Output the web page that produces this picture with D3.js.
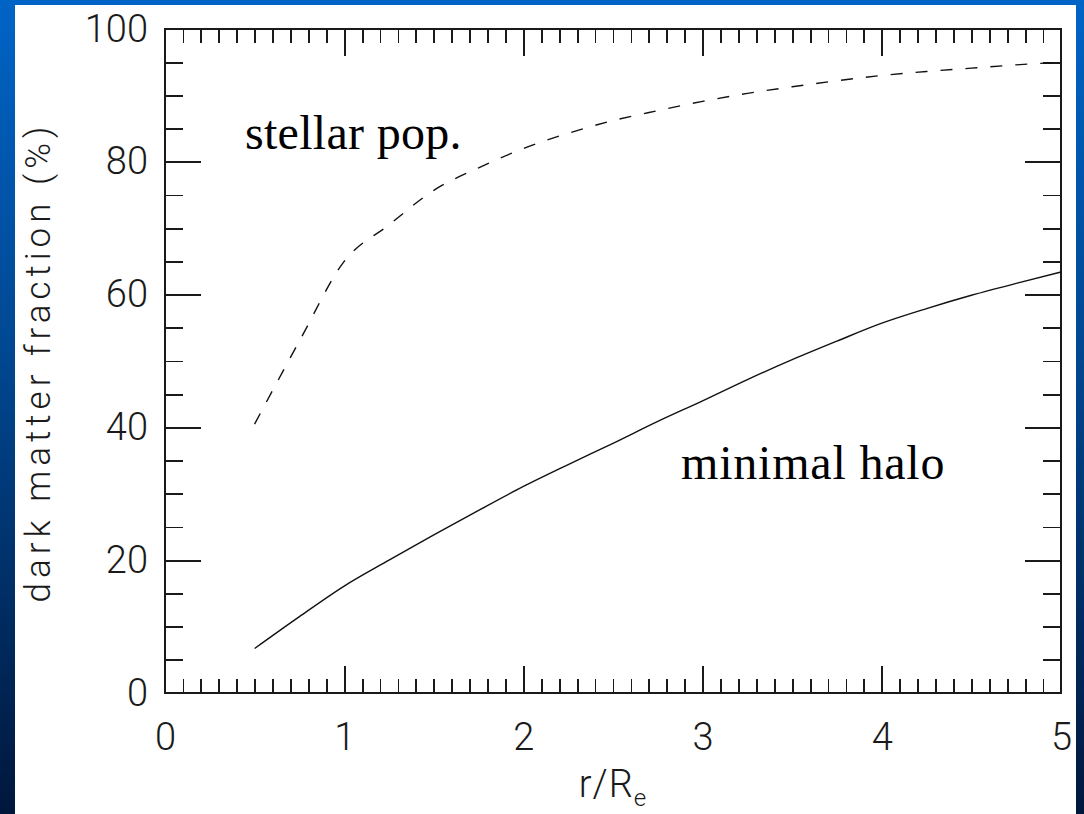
<!DOCTYPE html>
<html>
<head>
<meta charset="utf-8">
<script src="https://cdn.jsdelivr.net/npm/d3@7"></script>
<style>
  html, body { margin: 0; padding: 0; background: #fff; }
  svg { display: block; }
</style>
</head>
<body>
<svg id="chart" width="1084" height="814"></svg>
<script>
// Radius in units of the effective radius
const radius = [0.5, 0.75, 1.0, 1.25, 1.5, 1.75, 2.0, 2.25, 2.5, 2.75, 3.0,
                3.25, 3.5, 3.75, 4.0, 4.25, 4.5, 4.75, 5.0];
// Dark matter fraction (%) for the stellar-population mass model
const stellarPop = [40.5, 53.0, 65.0, 70.5, 75.7, 79.1, 82.0, 84.3, 86.2, 87.7, 89.1,
                    90.3, 91.3, 92.2, 93.0, 93.6, 94.1, 94.6, 95.0];
// Dark matter fraction (%) for the minimal-halo model
const minimalHalo = [6.7, 11.5, 16.1, 20.0, 23.8, 27.5, 31.1, 34.4, 37.6, 40.9, 44.0,
                     47.2, 50.2, 53.0, 55.7, 57.9, 59.9, 61.7, 63.4];

const xTicks = [0, 1, 2, 3, 4, 5];
const yTicks = [0, 20, 40, 60, 80, 100];
const xMinorTicks = d3.range(1, 50).filter(i => i % 10 !== 0).map(i => i / 10);
const yMinorTicks = d3.range(5, 100, 5).filter(v => v % 20 !== 0);

const svg = d3.select("#chart");

// Slide background: vertical blue gradient with a white panel on top
const defs = svg.append("defs");
const grad = defs.append("linearGradient")
  .attr("id", "bg").attr("x1", 0).attr("y1", 0).attr("x2", 0).attr("y2", 1);
grad.append("stop").attr("offset", "0%").attr("stop-color", "#0064c6");
grad.append("stop").attr("offset", "45%").attr("stop-color", "#00468f");
grad.append("stop").attr("offset", "100%").attr("stop-color", "#00173c");

svg.append("rect").attr("width", 1084).attr("height", 814).attr("fill", "url(#bg)");
svg.append("rect").attr("x", 15).attr("y", 5).attr("width", 1061).attr("height", 820)
  .attr("fill", "#ffffff");

const x = d3.scaleLinear().domain([0, 5]).range([165, 1061]);
const y = d3.scaleLinear().domain([0, 100]).range([693, 29]);

const axisColor = "#1a1a1a";
const tickFont = "Roboto, 'DejaVu Sans', sans-serif";

function styleAxis(g) {
  g.select(".domain").remove();
  g.selectAll(".tick line")
    .attr("stroke", axisColor)
    .attr("stroke-width", 1.8)
    .attr("shape-rendering", "crispEdges");
  g.selectAll("text")
    .attr("fill", axisColor)
    .attr("font-family", tickFont)
    .attr("font-weight", 300)
    .attr("font-size", 38);
}

// Minor ticks on all four sides (pointing inward)
svg.append("g").attr("transform", `translate(0,${y(0)})`)
  .call(d3.axisBottom(x).tickValues(xMinorTicks).tickSize(-14).tickFormat(""))
  .call(styleAxis);
svg.append("g").attr("transform", `translate(0,${y(100)})`)
  .call(d3.axisTop(x).tickValues(xMinorTicks).tickSize(-14).tickFormat(""))
  .call(styleAxis);
svg.append("g").attr("transform", `translate(${x(0)},0)`)
  .call(d3.axisLeft(y).tickValues(yMinorTicks).tickSize(-18).tickFormat(""))
  .call(styleAxis);
svg.append("g").attr("transform", `translate(${x(5)},0)`)
  .call(d3.axisRight(y).tickValues(yMinorTicks).tickSize(-18).tickFormat(""))
  .call(styleAxis);

// Major ticks, labelled on the bottom and left
svg.append("g").attr("transform", `translate(0,${y(0)})`)
  .call(d3.axisBottom(x).tickValues(xTicks).tickSize(-27).tickPadding(30).tickFormat(d3.format("d")))
  .call(styleAxis);
svg.append("g").attr("transform", `translate(0,${y(100)})`)
  .call(d3.axisTop(x).tickValues(xTicks).tickSize(-27).tickFormat(""))
  .call(styleAxis);
svg.append("g").attr("transform", `translate(${x(0)},0)`)
  .call(d3.axisLeft(y).tickValues(yTicks).tickSize(-36).tickPadding(17).tickFormat(d3.format("d")))
  .call(styleAxis);
svg.append("g").attr("transform", `translate(${x(5)},0)`)
  .call(d3.axisRight(y).tickValues(yTicks).tickSize(-36).tickFormat(""))
  .call(styleAxis);

// Plot frame
svg.append("rect")
  .attr("x", x(0)).attr("y", y(100))
  .attr("width", x(5) - x(0)).attr("height", y(0) - y(100))
  .attr("fill", "none").attr("stroke", axisColor).attr("stroke-width", 2)
  .attr("shape-rendering", "crispEdges");

// Curves
const line = d3.line()
  .x((d, i) => x(radius[i]))
  .y(d => y(d))
  .curve(d3.curveMonotoneX);

svg.append("path").datum(stellarPop)
  .attr("d", line)
  .attr("fill", "none").attr("stroke", "#111").attr("stroke-width", 1.4)
  .attr("stroke-dasharray", "12,13");

svg.append("path").datum(minimalHalo)
  .attr("d", line)
  .attr("fill", "none").attr("stroke", "#111").attr("stroke-width", 1.4);

// Axis titles
const xTitle = svg.append("text")
  .attr("x", (x(0) + x(5)) / 2).attr("y", 797)
  .attr("text-anchor", "middle")
  .attr("font-family", tickFont).attr("font-weight", 300).attr("font-size", 38)
  .attr("letter-spacing", 1)
  .attr("fill", axisColor);
xTitle.append("tspan").text("r/R");
xTitle.append("tspan").attr("font-size", 24).attr("dy", 9).text("e");

svg.append("text")
  .attr("transform", "translate(50,362) rotate(-90)")
  .attr("text-anchor", "middle")
  .attr("font-family", tickFont).attr("font-weight", 300).attr("font-size", 35)
  .attr("letter-spacing", 5)
  .attr("fill", axisColor)
  .text("dark matter fraction (%)");

// Curve annotations
svg.append("text")
  .attr("x", 245).attr("y", 149)
  .attr("font-family", "'Liberation Serif', 'Times New Roman', serif")
  .attr("font-size", 48).attr("letter-spacing", 0.3).attr("fill", "#000")
  .text("stellar pop.");

svg.append("text")
  .attr("x", 681).attr("y", 479)
  .attr("font-family", "'Liberation Serif', 'Times New Roman', serif")
  .attr("font-size", 48).attr("letter-spacing", 0.8).attr("fill", "#000")
  .text("minimal halo");
</script>
</body>
</html>
